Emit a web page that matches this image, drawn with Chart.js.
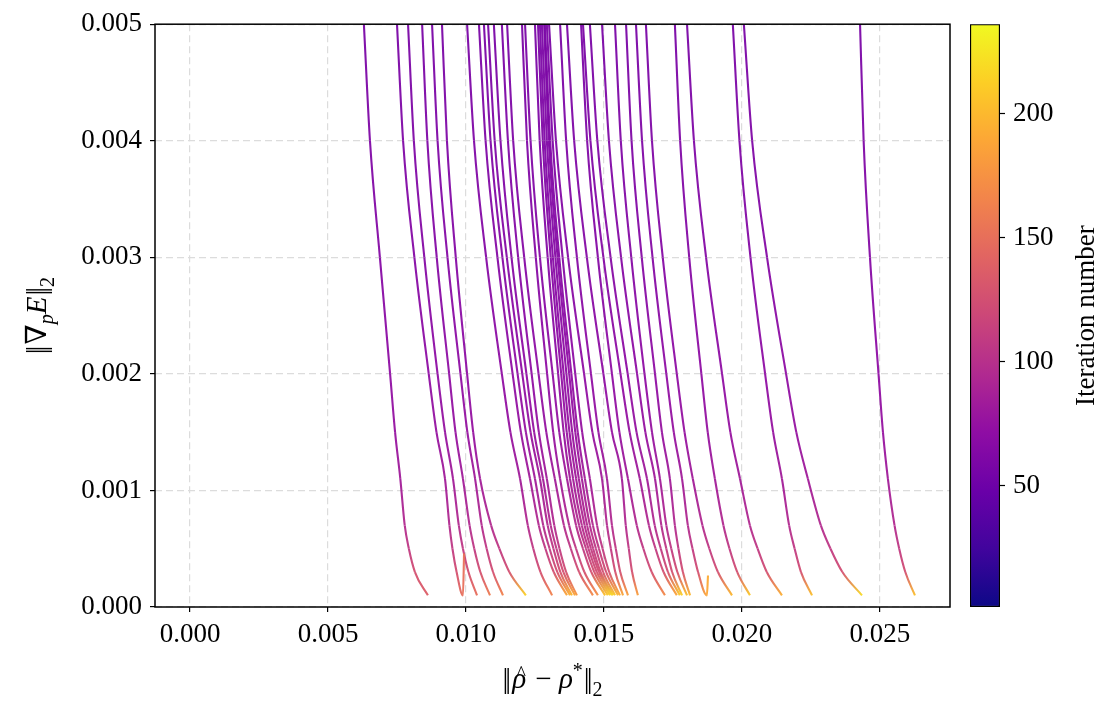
<!DOCTYPE html>
<html>
<head>
<meta charset="utf-8">
<script src="https://cdn.jsdelivr.net/npm/chart.js@4.4.1/dist/chart.umd.min.js"></script>
<style>
  html, body { margin: 0; padding: 0; background: #fff; }
  #wrap { position: relative; width: 1100px; height: 702px; }
  #mainBox { position: absolute; left: 0; top: 0; width: 960px; height: 702px; }
  #cbarBox { position: absolute; left: 960px; top: 0; width: 140px; height: 702px; }
</style>
</head>
<body>
<div id="wrap">
  <div id="mainBox"><canvas id="mainChart"></canvas></div>
  <div id="cbarBox"><canvas id="cbarChart"></canvas></div>
</div>
<script>
var yLevels = [0.005, 0.004, 0.003, 0.002, 0.0015, 0.0011, 0.0007, 0.0005, 0.0003, 0.0001];
// iteration number at those levels (last level is per run, see endIters)
var levelIters = [58, 62, 66, 72, 76, 84, 96, 108, 126];

// x = ||rho_hat - rho*||_2 for each run at yLevels
var run01 = [0.00630, 0.00652, 0.00688, 0.00725, 0.00743, 0.00762, 0.00778, 0.00793, 0.00815, 0.00862];
var run02 = [0.00750, 0.00772, 0.00813, 0.00865, 0.00893, 0.00924, 0.00940, 0.00951, 0.00966, 0.00989];
var run03 = [0.00790, 0.00811, 0.00849, 0.00897, 0.00924, 0.00953, 0.00974, 0.00989, 0.01009, 0.01040];
var run04 = [0.00841, 0.00860, 0.00894, 0.00939, 0.00962, 0.00989, 0.01013, 0.01030, 0.01052, 0.01087];
var run05 = [0.00877, 0.00897, 0.00933, 0.00980, 0.01005, 0.01033, 0.01057, 0.01075, 0.01098, 0.01134];
var run06 = [0.00913, 0.00931, 0.00963, 0.01004, 0.01026, 0.01051, 0.01091, 0.01121, 0.01157, 0.01217];
var run07 = [0.01004, 0.01029, 0.01073, 0.01130, 0.01161, 0.01196, 0.01224, 0.01244, 0.01270, 0.01312];
var run08 = [0.01047, 0.01071, 0.01114, 0.01169, 0.01199, 0.01232, 0.01264, 0.01288, 0.01318, 0.01366];
var run09 = [0.01065, 0.01089, 0.01132, 0.01187, 0.01217, 0.01250, 0.01280, 0.01303, 0.01331, 0.01377];
var run10 = [0.01080, 0.01104, 0.01148, 0.01204, 0.01234, 0.01268, 0.01296, 0.01317, 0.01342, 0.01384];
var run11 = [0.01101, 0.01125, 0.01165, 0.01219, 0.01247, 0.01279, 0.01307, 0.01328, 0.01353, 0.01395];
var run12 = [0.01130, 0.01152, 0.01189, 0.01238, 0.01264, 0.01293, 0.01320, 0.01339, 0.01363, 0.01402];
var run13 = [0.01149, 0.01171, 0.01211, 0.01263, 0.01291, 0.01322, 0.01355, 0.01380, 0.01410, 0.01460];
var run14 = [0.01203, 0.01221, 0.01253, 0.01294, 0.01316, 0.01341, 0.01374, 0.01399, 0.01429, 0.01478];
var run15 = [0.01214, 0.01234, 0.01268, 0.01314, 0.01338, 0.01366, 0.01399, 0.01424, 0.01454, 0.01504];
var run16 = [0.01250, 0.01267, 0.01296, 0.01334, 0.01354, 0.01377, 0.01410, 0.01435, 0.01465, 0.01514];
var run17 = [0.01261, 0.01278, 0.01307, 0.01345, 0.01365, 0.01388, 0.01420, 0.01444, 0.01474, 0.01522];
var run18 = [0.01268, 0.01285, 0.01315, 0.01354, 0.01375, 0.01399, 0.01430, 0.01453, 0.01482, 0.01529];
var run19 = [0.01275, 0.01293, 0.01324, 0.01364, 0.01385, 0.01409, 0.01439, 0.01461, 0.01488, 0.01533];
var run20 = [0.01283, 0.01300, 0.01332, 0.01374, 0.01396, 0.01420, 0.01449, 0.01471, 0.01497, 0.01540];
var run21 = [0.01286, 0.01305, 0.01338, 0.01382, 0.01405, 0.01431, 0.01460, 0.01482, 0.01508, 0.01551];
var run22 = [0.01293, 0.01314, 0.01350, 0.01396, 0.01421, 0.01449, 0.01475, 0.01495, 0.01519, 0.01558];
var run23 = [0.01301, 0.01326, 0.01370, 0.01428, 0.01458, 0.01493, 0.01511, 0.01525, 0.01541, 0.01569];
var run24 = [0.01341, 0.01363, 0.01402, 0.01453, 0.01480, 0.01511, 0.01529, 0.01543, 0.01559, 0.01587];
var run25 = [0.01366, 0.01392, 0.01438, 0.01498, 0.01529, 0.01565, 0.01579, 0.01590, 0.01602, 0.01623];
var run26 = [0.01417, 0.01439, 0.01478, 0.01529, 0.01556, 0.01587, 0.01619, 0.01643, 0.01673, 0.01721];
var run27 = [0.01424, 0.01451, 0.01498, 0.01560, 0.01593, 0.01630, 0.01663, 0.01687, 0.01716, 0.01764];
var run28 = [0.01449, 0.01476, 0.01524, 0.01586, 0.01618, 0.01656, 0.01684, 0.01706, 0.01732, 0.01775];
var run29 = [0.01493, 0.01518, 0.01562, 0.01620, 0.01650, 0.01685, 0.01708, 0.01726, 0.01747, 0.01783];
var run30 = [0.01540, 0.01561, 0.01599, 0.01647, 0.01674, 0.01703, 0.01726, 0.01744, 0.01766, 0.01801];
var run31 = [0.01580, 0.01600, 0.01637, 0.01685, 0.01710, 0.01739, 0.01757, 0.01770, 0.01786, 0.01812];
var run32 = [0.01616, 0.01638, 0.01676, 0.01726, 0.01753, 0.01783, 0.01804, 0.01821, 0.01841, 0.01873];
var run33 = [0.01652, 0.01674, 0.01713, 0.01764, 0.01792, 0.01822, 0.01857, 0.01882, 0.01913, 0.01964];
var run34 = [0.01757, 0.01776, 0.01809, 0.01853, 0.01876, 0.01902, 0.01933, 0.01955, 0.01983, 0.02029];
var run35 = [0.01801, 0.01826, 0.01870, 0.01928, 0.01958, 0.01993, 0.02029, 0.02057, 0.02090, 0.02145];
var run36 = [0.01967, 0.01991, 0.02031, 0.02084, 0.02113, 0.02145, 0.02171, 0.02191, 0.02214, 0.02254];
var run37 = [0.02007, 0.02037, 0.02091, 0.02160, 0.02197, 0.02239, 0.02286, 0.02321, 0.02364, 0.02435];
var run38 = [0.02428, 0.02441, 0.02464, 0.02495, 0.02511, 0.02529, 0.02553, 0.02570, 0.02592, 0.02627];

// iteration number reached at the end of each run
var endIters = [138, 150, 150, 160, 165, 215, 165, 190, 195, 200, 190, 180, 170, 175, 205, 210, 215, 220, 215,
                210, 200, 195, 190, 185, 185, 170, 190, 210, 215, 205, 200, 188, 200, 210, 195, 205, 220, 205];

// two runs end with a short jump back up
var spikeRuns = [1, 31];
var spikeX = [0.00993, 0.01877];
var spikeY = [0.00046, 0.00027];
var spikeIters = [150, 192];

var xTicks = [0, 0.005, 0.010, 0.015, 0.020, 0.025];
var yTicks = [0, 0.001, 0.002, 0.003, 0.004, 0.005];
var cbTicks = [50, 100, 150, 200];
var xMin = -0.00127, xMax = 0.02754;
var cbMin = 1, cbMax = 236;

var runs = [run01, run02, run03, run04, run05, run06, run07, run08, run09, run10,
            run11, run12, run13, run14, run15, run16, run17, run18, run19, run20,
            run21, run22, run23, run24, run25, run26, run27, run28, run29, run30,
            run31, run32, run33, run34, run35, run36, run37, run38];

// matplotlib 'plasma' sampled at 0, 0.1, ... 1
var plasmaStops = [[13, 8, 135], [65, 4, 157], [106, 0, 168], [143, 13, 164], [177, 42, 144], [204, 71, 120],
                   [225, 100, 98], [242, 132, 75], [252, 166, 54], [252, 206, 37], [240, 249, 33]];

var FONT = '"Liberation Serif", "DejaVu Serif", serif';
Chart.defaults.font.family = FONT;
Chart.defaults.font.size = 27;
Chart.defaults.color = '#000';

function plasma(it, alpha) {
    var t = (it - cbMin) / (cbMax - cbMin);
    t = Math.max(0, Math.min(1, t));
    var pos = t * (plasmaStops.length - 1);
    var i = Math.min(Math.floor(pos), plasmaStops.length - 2);
    var f = pos - i;
    var a = plasmaStops[i], b = plasmaStops[i + 1];
    var c = [0, 1, 2].map(function (k) { return Math.round(a[k] + (b[k] - a[k]) * f); });
    return 'rgba(' + c[0] + ',' + c[1] + ',' + c[2] + ',' + (alpha == null ? 1 : alpha) + ')';
}

function segGradient(ctx, pts) {
    var g = ctx.chart.ctx.createLinearGradient(ctx.p0.x, ctx.p0.y, ctx.p1.x, ctx.p1.y);
    g.addColorStop(0, plasma(pts[ctx.p0DataIndex].it, 0.95));
    g.addColorStop(1, plasma(pts[ctx.p1DataIndex].it, 0.95));
    return g;
}

// draws a title made of several runs of text (italics, sub/superscripts, accents)
function drawRich(c, parts, x, y, angle) {
    c.save();
    c.translate(x, y);
    c.rotate(angle);
    c.textAlign = 'left';
    c.textBaseline = 'alphabetic';
    c.fillStyle = '#000';
    var total = 0;
    parts.forEach(function (p) {
        c.font = p.font;
        p.w = c.measureText(p.t).width;
        if (!p.over) total += p.w + (p.gap || 0);
    });
    var cx = -total / 2, prevX = 0, prevW = 0;
    parts.forEach(function (p) {
        c.font = p.font;
        if (p.over) {
            c.fillText(p.t, prevX + prevW / 2 - p.w / 2 + (p.dx || 0), p.dy || 0);
            return;
        }
        c.fillText(p.t, cx, p.dy || 0);
        prevX = cx; prevW = p.w;
        cx += p.w + (p.gap || 0);
    });
    c.restore();
}

var N = '29px ' + FONT, I = 'italic 29px ' + FONT, S = '20px ' + FONT, SI = 'italic 20px ' + FONT;

var datasets = runs.map(function (xs, i) {
    var pts = xs.map(function (x, k) {
        return { x: x, y: yLevels[k], it: k < levelIters.length ? levelIters[k] : endIters[i] };
    });
    var s = spikeRuns.indexOf(i);
    if (s >= 0) pts.push({ x: spikeX[s], y: spikeY[s], it: spikeIters[s] });
    return {
        data: pts,
        borderWidth: 2.1,
        pointRadius: 0,
        cubicInterpolationMode: 'monotone',
        fill: false,
        segment: { borderColor: function (ctx) { return segGradient(ctx, pts); } }
    };
});

var framePlugin = {
    id: 'frame',
    afterDatasetsDraw: function (chart) {
        var a = chart.chartArea, c = chart.ctx;
        c.save();
        c.strokeStyle = '#000';
        c.lineWidth = 1.5;
        c.strokeRect(a.left, a.top, a.right - a.left, a.bottom - a.top);
        c.restore();
    }
};

var mainTitles = {
    id: 'mainTitles',
    afterDraw: function (chart) {
        var a = chart.chartArea, c = chart.ctx;
        drawRich(c, [
            { t: '|', font: N, gap: -3 },
            { t: '|', font: N, gap: 1 },
            { t: '\u03C1', font: I, gap: 2 },
            { t: '^', font: S, over: true, dx: 2, dy: -8 },
            { t: ' \u2212 ', font: N },
            { t: '\u03C1', font: I },
            { t: '*', font: S, dy: -11, gap: 1 },
            { t: '|', font: N, gap: -3 },
            { t: '|', font: N },
            { t: '2', font: S, dy: 8 }
        ], (a.left + a.right) / 2, 688, 0);
        drawRich(c, [
            { t: '|', font: N, gap: -3 },
            { t: '|', font: N, gap: 1 },
            { t: '\u2207', font: N },
            { t: 'p', font: SI, dy: 7 },
            { t: 'E', font: I, gap: 1 },
            { t: '|', font: N, gap: -3 },
            { t: '|', font: N },
            { t: '2', font: S, dy: 8 }
        ], 46, (a.top + a.bottom) / 2, -Math.PI / 2);
    }
};

new Chart(document.getElementById('mainChart').getContext('2d'), {
    type: 'line',
    data: { datasets: datasets },
    options: {
        responsive: true,
        maintainAspectRatio: false,
        animation: false,
        events: [],
        layout: { padding: { left: 0, right: 10, top: 20, bottom: 0 } },
        plugins: { legend: { display: false }, tooltip: { enabled: false } },
        scales: {
            x: {
                type: 'linear',
                min: xMin,
                max: xMax,
                afterBuildTicks: function (s) { s.ticks = xTicks.map(function (v) { return { value: v }; }); },
                afterFit: function (s) { s.height = 95; },
                ticks: { padding: 7, maxRotation: 0, autoSkip: false, callback: function (v) { return v.toFixed(3); } },
                grid: { color: '#dcdcdc', lineWidth: 1.2, tickColor: '#000', tickLength: 5, tickWidth: 1.2 },
                border: { display: false, dash: [7, 4] }
            },
            y: {
                type: 'linear',
                min: 0,
                max: 0.005,
                afterBuildTicks: function (s) { s.ticks = yTicks.map(function (v) { return { value: v }; }); },
                afterFit: function (s) { s.width = 155; },
                ticks: { padding: 8, autoSkip: false, callback: function (v) { return v.toFixed(3); } },
                grid: { color: '#dcdcdc', lineWidth: 1.2, tickColor: '#000', tickLength: 5, tickWidth: 1.2 },
                border: { display: false, dash: [7, 4] }
            }
        }
    },
    plugins: [framePlugin, mainTitles]
});

var cbarTitle = {
    id: 'cbarTitle',
    afterDraw: function (chart) {
        var a = chart.chartArea;
        drawRich(chart.ctx, [{ t: 'Iteration number', font: '27px ' + FONT }], 134, (a.top + a.bottom) / 2, -Math.PI / 2);
    }
};

new Chart(document.getElementById('cbarChart').getContext('2d'), {
    type: 'bar',
    data: {
        labels: [''],
        datasets: [{
            data: [[cbMin, cbMax]],
            backgroundColor: function (ctx) {
                var a = ctx.chart.chartArea;
                if (!a) return null;
                var g = ctx.chart.ctx.createLinearGradient(0, a.bottom, 0, a.top);
                plasmaStops.forEach(function (c, i) {
                    g.addColorStop(i / (plasmaStops.length - 1), 'rgb(' + c.join(',') + ')');
                });
                return g;
            },
            borderColor: '#000',
            borderWidth: 1.5,
            borderSkipped: false,
            categoryPercentage: 1,
            barPercentage: 1
        }]
    },
    options: {
        responsive: true,
        maintainAspectRatio: false,
        animation: false,
        events: [],
        layout: { padding: { left: 10, right: 0, top: 20, bottom: 95 } },
        plugins: { legend: { display: false }, tooltip: { enabled: false } },
        scales: {
            x: { display: false },
            y: {
                position: 'right',
                min: cbMin,
                max: cbMax,
                afterBuildTicks: function (s) { s.ticks = cbTicks.map(function (v) { return { value: v }; }); },
                afterFit: function (s) { s.width = 100; },
                ticks: { padding: 8 },
                grid: { drawOnChartArea: false, tickColor: '#000', tickLength: 5, tickWidth: 1.2 },
                border: { display: false }
            }
        }
    },
    plugins: [cbarTitle]
});
</script>
</body>
</html>
